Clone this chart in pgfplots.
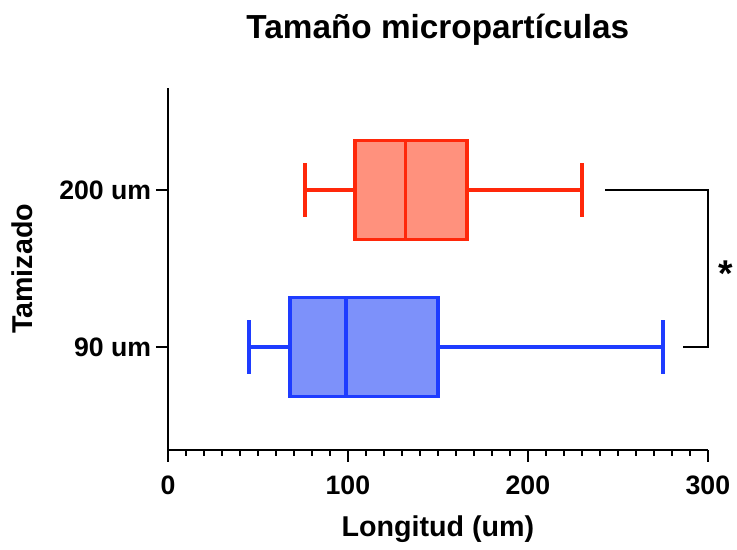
\documentclass[border=0pt]{standalone}
\usepackage{pgfplots}
\pgfplotsset{compat=1.18}
\usepgfplotslibrary{statistics}
\usepackage{fontspec}
\setmainfont{Liberation Sans}
\definecolor{redE}{RGB}{255,40,10}
\definecolor{redF}{RGB}{255,145,125}
\definecolor{bluE}{RGB}{30,60,255}
\definecolor{bluF}{RGB}{125,145,250}
\begin{document}
\begin{tikzpicture}
\begin{axis}[
    scale only axis,
    width=405pt, height=271.5pt,
    xmin=0, xmax=300, ymin=0.345, ymax=2.65,
    axis x line=bottom, axis y line=left,
    axis line style={-, line width=1.8pt},
    boxplot/draw direction=x,
    xtick={0,100,200,300}, minor x tick num=9,
    ytick={1,2}, yticklabels={90 um,200 um},
    tick align=outside,
    major tick length=9pt, minor tick length=4.5pt,
    every tick/.style={black, line width=1.5pt},
    /pgf/number format/assume math mode=true,
    ticklabel style={font=\fontsize{20}{22}\selectfont\bfseries},
    xticklabel style={yshift=-7pt},
    label style={font=\fontsize{21.5}{24}\selectfont\bfseries},
    xlabel={Longitud (um)},
    xlabel style={yshift=-9pt},
    ylabel={Tamizado},
    ylabel style={yshift=13pt},
    title={Tamaño micropartículas},
    title style={font=\fontsize{25}{28}\selectfont\bfseries, yshift=22pt},
    clip=false,
]
\addplot[draw=redE, fill=redF, line width=2.8pt,
    boxplot prepared={lower whisker=76, lower quartile=104, median=132,
      upper quartile=166, upper whisker=230, draw position=2,
      box extend=0.63, whisker extend=0.34}] coordinates {};
\addplot[draw=bluE, fill=bluF, line width=2.8pt,
    boxplot prepared={lower whisker=45, lower quartile=68, median=99,
      upper quartile=150, upper whisker=275, draw position=1,
      box extend=0.63, whisker extend=0.34}] coordinates {};
% significance bracket
\addplot[black, line width=1.8pt] coordinates {(243,2) (300,2) (300,1) (286,1)};
\node[inner sep=0pt, font=\fontsize{28}{28}\selectfont\bfseries] at (axis cs:310,1.47) {*};
\coordinate (bl) at (rel axis cs:-0.311,-0.276);
\coordinate (tr) at (rel axis cs:1.054,1.243);
\end{axis}
\pgfresetboundingbox
\path[use as bounding box] (bl) rectangle (tr);
\end{tikzpicture}
\end{document}
